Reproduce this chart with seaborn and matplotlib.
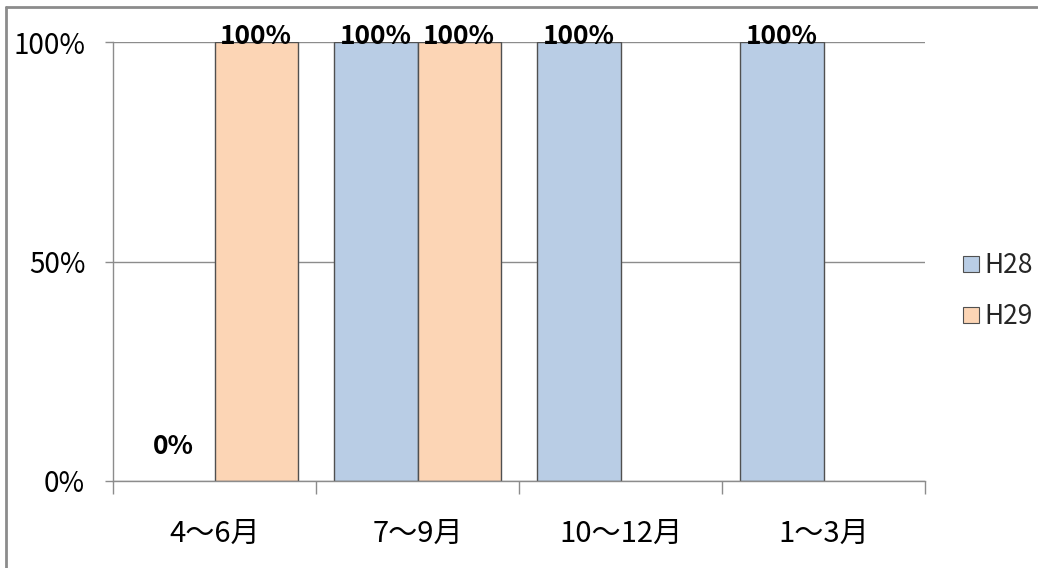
import numpy as np
import pandas as pd
import matplotlib
matplotlib.use('Agg')
import matplotlib.pyplot as plt
from matplotlib.lines import Line2D
import seaborn as sns

kikan = ['4～6月', '7～9月', '10～12月', '1～3月']
h28 = [0.0, 1.0, 1.0, 1.0]
h29 = [1.0, 1.0, np.nan, np.nan]
nendo = ['H28', 'H29']
iro = ['#B9CDE5', '#FCD5B5']

df = pd.DataFrame({
    'kikan': kikan * 2,
    'nendo': ['H28'] * len(kikan) + ['H29'] * len(kikan),
    'ritsu': h28 + h29,
})
df = df.dropna()

sns.set_theme(style='white')
plt.rcParams['font.family'] = ['Noto Sans CJK JP', 'DejaVu Sans']

fig = plt.figure(figsize=(10.38, 5.68), dpi=100)
ax = fig.add_axes([113 / 1038, 87 / 568, 812 / 1038, 439 / 568])

sns.barplot(data=df, x='kikan', y='ritsu', hue='nendo', order=kikan,
            hue_order=nendo, palette=iro, width=0.82, edgecolor='#505050',
            linewidth=1, saturation=1, legend=False, ax=ax)

ax.set_xlim(-0.5, len(kikan) - 0.5)
ax.set_ylim(0, 1)
ax.set_yticks([0, 0.5, 1])
ax.set_yticklabels(['0%', '50%', '100%'])
ax.yaxis.grid(True, color='#8c8c8c', linewidth=1)
ax.set_axisbelow(True)
ax.set_xlabel('')
ax.set_ylabel('')

for s in ['top', 'right']:
    ax.spines[s].set_visible(False)
for s in ['left', 'bottom']:
    ax.spines[s].set_color('#8c8c8c')
    ax.spines[s].set_linewidth(1)

ax.tick_params(axis='y', left=True, length=6, width=1, color='#8c8c8c',
               pad=14, labelsize=20, labelcolor='black')
ax.set_xticks(np.arange(-0.5, len(kikan)), minor=True)
ax.tick_params(axis='x', which='minor', bottom=True, length=9, width=1, color='#8c8c8c')
ax.tick_params(axis='x', which='major', bottom=False, length=0, pad=27,
               labelsize=21, labelcolor='black')

# data labels
for p in ax.patches:
    h = p.get_height()
    if np.isnan(h):
        continue
    if h == 0:
        p.set_edgecolor('none')
    off = 6 if h > 0 else 34
    ax.annotate('{:.0f}%'.format(h * 100), (p.get_x() + p.get_width() / 2, h),
                xytext=(0, off), textcoords='offset pixels', ha='center', va='center',
                fontsize=19, fontweight='bold', color='black', annotation_clip=False)

handles = [Line2D([], [], marker='s', linestyle='none', markersize=11,
                  markerfacecolor=c, markeredgecolor='#505050', markeredgewidth=0.8)
           for c in iro]
fig.legend(handles, nendo, loc='center left', bbox_to_anchor=(950 / 1038, 1 - 291 / 568),
           frameon=False, fontsize=19, handletextpad=0.1, labelspacing=0.9,
           borderaxespad=0, handlelength=0.8)

# outer frame
fig.add_artist(Line2D([5.5 / 1038, 5.5 / 1038], [0, 1 - 6.5 / 568], transform=fig.transFigure,
                      color='#8c8c8c', linewidth=2))
fig.add_artist(Line2D([5.5 / 1038, 1037 / 1038], [1 - 6.5 / 568, 1 - 6.5 / 568],
                      transform=fig.transFigure, color='#8c8c8c', linewidth=2))

fig.savefig('out.png', dpi=100)
